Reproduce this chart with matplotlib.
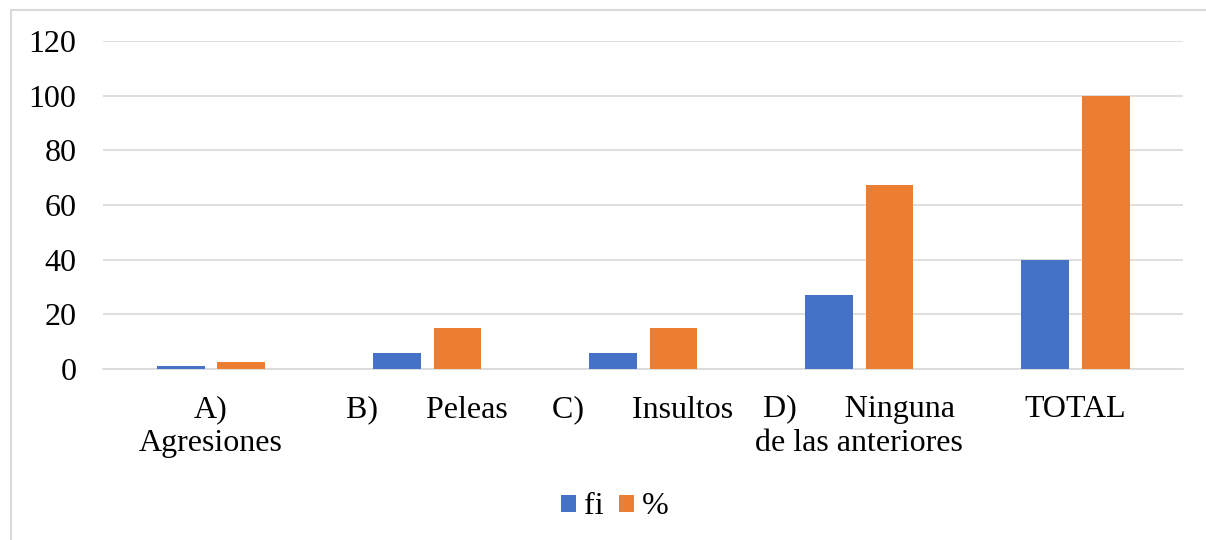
import matplotlib.pyplot as plt
import numpy as np
from matplotlib.lines import Line2D

plt.rcParams['font.family'] = ['Liberation Serif', 'DejaVu Serif']

categories = ['A)\nAgresiones', 'B)      Peleas', 'C)      Insultos',
              'D)      Ninguna\nde las anteriores', 'TOTAL']
fi = [1, 6, 6, 27, 40]
pct = [2.5, 15, 15, 67.5, 100]
y_ticks = [0, 20, 40, 60, 80, 100, 120]

BLUE = '#4472C4'
ORANGE = '#ED7D31'
GRID = '#D9D9D9'

fig = plt.figure(figsize=(12.06, 5.4), dpi=100)
# outer chart frame, only left and top edges are inside the picture
frame_x = 11 / 1206
frame_y = 1 - 10 / 540
fig.lines.append(Line2D([frame_x, frame_x], [0, frame_y], transform=fig.transFigure,
                        color=GRID, linewidth=1.5))
fig.lines.append(Line2D([frame_x, 1], [frame_y, frame_y], transform=fig.transFigure,
                        color=GRID, linewidth=1.5))
ax = fig.add_axes([0.0854, 0.3167, 0.8956, 0.6073])

x = np.arange(len(categories))
width = 0.222
ax.bar(x - 0.141, fi, width, color=BLUE, label='fi', zorder=3)
ax.bar(x + 0.141, pct, width, color=ORANGE, label='%', zorder=3)

ax.set_xlim(-0.5, len(categories) - 0.5)
ax.set_ylim(0, 120)
ax.set_yticks(y_ticks)
ax.set_xticks(x)
ax.set_xticklabels(categories, linespacing=1.2)
ax.tick_params(axis='both', length=0, labelsize=23)
ax.tick_params(axis='x', pad=19)
ax.tick_params(axis='y', pad=19)
ax.grid(axis='y', color=GRID, linewidth=1.2, zorder=0)
for side in ['top', 'right', 'left']:
    ax.spines[side].set_visible(False)
ax.spines['bottom'].set_color(GRID)
ax.spines['bottom'].set_linewidth(1.2)

ax.legend(loc='center', bbox_to_anchor=(615 / 1206, 1 - 507 / 540),
          bbox_transform=fig.transFigure, ncol=2, frameon=False,
          fontsize=23, handlelength=0.45, handleheight=0.45,
          handletextpad=0.25, columnspacing=0.5, borderpad=0)

fig.savefig('out.png', dpi=100)
